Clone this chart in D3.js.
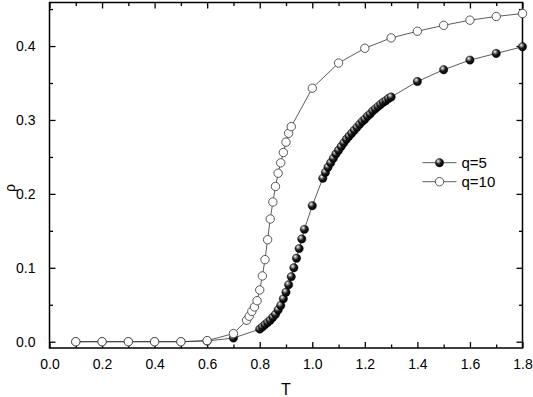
<!DOCTYPE html>
<html>
<head>
<meta charset="utf-8">
<script src="https://cdn.jsdelivr.net/npm/d3@7"></script>
<style>
  body { margin: 0; background: #fff; }
  text { font-family: Arial, "Liberation Sans", sans-serif; fill: #000; }
</style>
</head>
<body>
<div id="chart"></div>
<script>
// q=5 (filled spheres)
var q5T = [0.1, 0.2, 0.3, 0.4, 0.5, 0.6, 0.7,
  0.80, 0.81, 0.82, 0.83, 0.84, 0.85, 0.86, 0.87, 0.88, 0.89, 0.90, 0.91, 0.92, 0.93, 0.94, 0.95, 0.96, 0.97,
  1.0,
  1.04, 1.05, 1.06, 1.07, 1.08, 1.09, 1.10, 1.11, 1.12, 1.13, 1.14, 1.15, 1.16, 1.17, 1.18, 1.19, 1.20,
  1.21, 1.22, 1.23, 1.24, 1.25, 1.26, 1.27, 1.28, 1.29, 1.30,
  1.4, 1.5, 1.6, 1.7, 1.8];
var q5Rho = [0, 0, 0, 0, 0, 0.001, 0.005,
  0.017, 0.020, 0.023, 0.026, 0.029, 0.033, 0.037, 0.043, 0.049, 0.058, 0.067, 0.077, 0.088, 0.100, 0.113, 0.126, 0.139, 0.152,
  0.184,
  0.221, 0.229, 0.236, 0.242, 0.248, 0.254, 0.259, 0.264, 0.269, 0.274, 0.278, 0.282, 0.286, 0.290, 0.294, 0.298, 0.301,
  0.305, 0.308, 0.312, 0.315, 0.318, 0.321, 0.324, 0.326, 0.329, 0.331,
  0.352, 0.368, 0.381, 0.390, 0.399];

// q=10 (open circles)
var q10T = [0.1, 0.2, 0.3, 0.4, 0.5, 0.6, 0.7,
  0.75, 0.76, 0.77, 0.78, 0.79, 0.80, 0.81, 0.82, 0.83, 0.84, 0.85, 0.86, 0.87, 0.88, 0.89, 0.90, 0.91, 0.92,
  1.0, 1.1, 1.2, 1.3, 1.4, 1.5, 1.6, 1.7, 1.8];
var q10Rho = [0, 0, 0, 0, 0, 0.0015, 0.011,
  0.029, 0.0345, 0.041, 0.047, 0.0555, 0.070, 0.089, 0.111, 0.138, 0.166, 0.189, 0.210, 0.228, 0.242, 0.256, 0.270, 0.282, 0.291,
  0.343, 0.377, 0.397, 0.411, 0.420, 0.428, 0.435, 0.440, 0.444];

var xTicks = [0, 0.2, 0.4, 0.6, 0.8, 1.0, 1.2, 1.4, 1.6, 1.8];
var xMinorTicks = [0.1, 0.3, 0.5, 0.7, 0.9, 1.1, 1.3, 1.5, 1.7];
var yTicks = [0, 0.1, 0.2, 0.3, 0.4];
var yMinorTicks = [0.05, 0.15, 0.25, 0.35, 0.45];
var legendLabels = ["q=5", "q=10"];

var width = 533, height = 397;
var plotLeft = 49.5, plotRight = 522.5, plotTop = 2.5, plotBottom = 348;

var svg = d3.select("#chart").append("svg")
  .attr("width", width)
  .attr("height", height);

var defs = svg.append("defs");
var grad = defs.append("radialGradient")
  .attr("id", "sphere")
  .attr("cx", "38%").attr("cy", "35%").attr("r", "65%")
  .attr("fx", "35%").attr("fy", "30%");
grad.append("stop").attr("offset", "0%").attr("stop-color", "#ffffff");
grad.append("stop").attr("offset", "22%").attr("stop-color", "#9a9a9a");
grad.append("stop").attr("offset", "55%").attr("stop-color", "#1a1a1a");
grad.append("stop").attr("offset", "100%").attr("stop-color", "#000000");

var x = d3.scaleLinear().domain([0, 1.8]).range([plotLeft, plotRight]);
var y = d3.scaleLinear().domain([-0.0085, 0.4589]).range([plotBottom, plotTop]);

function drawAxes() {
  var g = svg.append("g");
  // major / minor ticks, pointing inward on all four sides
  g.append("g").attr("transform", "translate(0," + plotBottom + ")")
    .call(d3.axisBottom(x).tickValues(xTicks).tickSize(-6).tickPadding(11).tickFormat(d3.format(".1f")));
  g.append("g").attr("transform", "translate(0," + plotBottom + ")")
    .call(d3.axisBottom(x).tickValues(xMinorTicks).tickSize(-3.5).tickFormat(""));
  g.append("g").attr("transform", "translate(0," + plotTop + ")")
    .call(d3.axisTop(x).tickValues(xTicks).tickSize(-6).tickFormat(""));
  g.append("g").attr("transform", "translate(0," + plotTop + ")")
    .call(d3.axisTop(x).tickValues(xMinorTicks).tickSize(-3.5).tickFormat(""));
  g.append("g").attr("transform", "translate(" + plotLeft + ",0)")
    .call(d3.axisLeft(y).tickValues(yTicks).tickSize(-6).tickPadding(14).tickFormat(d3.format(".1f")));
  g.append("g").attr("transform", "translate(" + plotLeft + ",0)")
    .call(d3.axisLeft(y).tickValues(yMinorTicks).tickSize(-3.5).tickFormat(""));
  g.append("g").attr("transform", "translate(" + plotRight + ",0)")
    .call(d3.axisRight(y).tickValues(yTicks).tickSize(-6).tickFormat(""));
  g.append("g").attr("transform", "translate(" + plotRight + ",0)")
    .call(d3.axisRight(y).tickValues(yMinorTicks).tickSize(-3.5).tickFormat(""));
  g.selectAll(".domain").remove();
  g.selectAll(".tick line").attr("stroke", "#000").attr("stroke-width", 1.3);
  g.selectAll(".tick text").style("font-size", "14px").style("font-family", "Arial, 'Liberation Sans', sans-serif").attr("fill", "#000");

  svg.append("rect")
    .attr("x", plotLeft).attr("y", plotTop)
    .attr("width", plotRight - plotLeft).attr("height", plotBottom - plotTop)
    .attr("fill", "none").attr("stroke", "#000").attr("stroke-width", 1.5);

  svg.append("text")
    .attr("x", (plotLeft + plotRight) / 2).attr("y", 395)
    .attr("text-anchor", "middle")
    .style("font-size", "16px")
    .text("T");
  svg.append("text")
    .attr("transform", "translate(15,188) rotate(-90)")
    .attr("text-anchor", "middle")
    .style("font-size", "14px")
    .text("ρ");
}

function drawSeries(tVals, rhoVals, filled) {
  var pts = d3.zip(tVals, rhoVals);
  var line = d3.line().x(d => x(d[0])).y(d => y(d[1]));
  svg.append("path")
    .datum(pts)
    .attr("fill", "none")
    .attr("stroke", "#333")
    .attr("stroke-width", 0.8)
    .attr("d", line);
  svg.append("g").selectAll("circle")
    .data(pts)
    .join("circle")
    .attr("cx", d => x(d[0]))
    .attr("cy", d => y(d[1]))
    .attr("r", 4.2)
    .attr("fill", filled ? "url(#sphere)" : "#fff")
    .attr("stroke", filled ? "#000" : "#444")
    .attr("stroke-width", filled ? 0.4 : 0.9);
}

function drawLegend() {
  var rows = [{ label: legendLabels[0], filled: true, y: 162.7 }, { label: legendLabels[1], filled: false, y: 181.7 }];
  for (var r of rows) {
    svg.append("line")
      .attr("x1", 422.5).attr("x2", 456.5)
      .attr("y1", r.y).attr("y2", r.y)
      .attr("stroke", "#333").attr("stroke-width", 0.8);
    svg.append("circle")
      .attr("cx", 439.5).attr("cy", r.y).attr("r", 4.2)
      .attr("fill", r.filled ? "url(#sphere)" : "#fff")
      .attr("stroke", r.filled ? "#000" : "#444")
      .attr("stroke-width", r.filled ? 0.4 : 0.9);
    svg.append("text")
      .attr("x", 461.5).attr("y", r.y + 5)
      .style("font-size", "15px")
      .text(r.label);
  }
}

drawAxes();
drawSeries(q5T, q5Rho, true);
drawSeries(q10T, q10Rho, false);
drawLegend();
</script>
</body>
</html>
